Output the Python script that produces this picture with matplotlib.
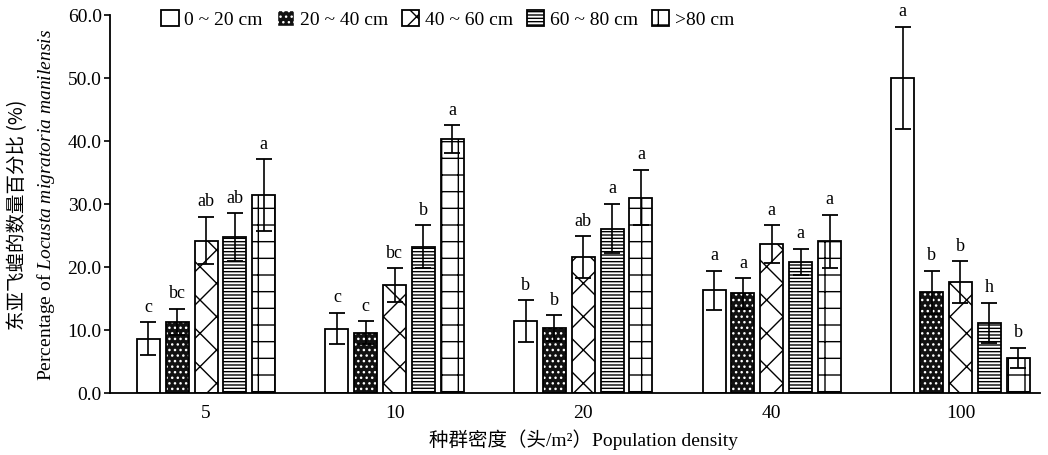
import matplotlib
matplotlib.use("Agg")
import matplotlib.pyplot as plt
from matplotlib.patches import Patch
import numpy as np

densities = ["5", "10", "20", "40", "100"]
series = ["0 ~ 20 cm", "20 ~ 40 cm", "40 ~ 60 cm", "60 ~ 80 cm", ">80 cm"]
v_0_20 = [8.6, 10.2, 11.4, 16.3, 50.0]
v_20_40 = [11.3, 9.6, 10.3, 15.8, 16.0]
v_40_60 = [24.2, 17.1, 21.6, 23.6, 17.6]
v_60_80 = [24.7, 23.2, 26.1, 20.8, 11.1]
v_80 = [31.4, 40.3, 31.0, 24.1, 5.6]
e_0_20 = [2.6, 2.5, 3.3, 3.1, 8.1]
e_20_40 = [2.1, 1.8, 2.0, 2.4, 3.4]
e_40_60 = [3.8, 2.7, 3.3, 3.0, 3.3]
e_60_80 = [3.8, 3.4, 3.9, 2.1, 3.2]
e_80 = [5.7, 2.2, 4.4, 4.2, 1.6]
l_0_20 = ["c", "c", "b", "a", "a"]
l_20_40 = ["bc", "c", "b", "a", "b"]
l_40_60 = ["ab", "bc", "ab", "a", "b"]
l_60_80 = ["ab", "b", "a", "a", "h"]
l_80 = ["a", "a", "a", "a", "b"]

values = [v_0_20, v_20_40, v_40_60, v_60_80, v_80]
errors = [e_0_20, e_20_40, e_40_60, e_60_80, e_80]
letters = [l_0_20, l_20_40, l_40_60, l_60_80, l_80]

plt.rcParams['font.family'] = ['Liberation Serif', 'Noto Sans CJK SC']
plt.rcParams['mathtext.fontset'] = 'custom'
plt.rcParams['mathtext.it'] = 'Liberation Serif:italic'
plt.rcParams['mathtext.rm'] = 'Liberation Serif'
plt.rcParams['hatch.linewidth'] = 1.0

fig = plt.figure(figsize=(10.48, 4.56), dpi=100)
ax = fig.add_axes([0.105, 0.136, 0.887, 0.829])

x = np.arange(len(densities))
step = 0.153
width = 0.122
hatches = [None, '...', 'x', '-----', '+']
handles = []
for i, (vals, errs, labs) in enumerate(zip(values, errors, letters)):
    pos = x + (i - 2) * step
    if i == 1:
        ax.bar(pos, vals, width, color='#111111', edgecolor='white', hatch='...', linewidth=0, zorder=2)
        ax.bar(pos, vals, width, facecolor='none', edgecolor='black', linewidth=1.3, zorder=3)
        h = Patch(facecolor='#111111', edgecolor='white', hatch='...')
    else:
        b = ax.bar(pos, vals, width, facecolor='white', edgecolor='black', hatch=hatches[i], linewidth=1.3, zorder=2)
        h = b
    handles.append(h)
    ax.errorbar(pos, vals, yerr=errs, fmt='none', ecolor='black', elinewidth=1.2, capsize=5.5, capthick=1.3, zorder=4)
    for p, v, e, t in zip(pos, vals, errs, labs):
        ax.text(p, v + e + 1.2, t, ha='center', va='bottom', fontsize=13)

ax.set_xlim(-0.509, 4.42)
ax.set_ylim(0, 60)
ax.set_yticks(np.arange(0, 61, 10))
ax.set_yticklabels([f"{t:.1f}" for t in np.arange(0, 61, 10)], fontsize=14)
ax.set_xticks(x)
ax.set_xticklabels(densities, fontsize=14)
ax.tick_params(axis='x', length=0, pad=8)
ax.tick_params(axis='y', direction='out', length=4, width=1.2, pad=2)
for s in ['top', 'right']:
    ax.spines[s].set_visible(False)
ax.spines['left'].set_linewidth(1.3)
ax.spines['bottom'].set_linewidth(1.3)

fig.text(0.557, 0.035, "种群密度（头/m²）Population density", ha='center', va='center', fontsize=14)
fig.text(0.017, 0.53, "东亚飞蝗的数量百分比 (%)", rotation=90, ha='center', va='center', fontsize=14,
         family=['Noto Sans CJK SC', 'Liberation Serif'])
fig.text(0.044, 0.55, "Percentage of $\\it{Locusta\\ migratoria\\ manilensis}$", rotation=90,
         ha='center', va='center', fontsize=14)

fig.legend(handles, series, loc='upper left', bbox_to_anchor=(0.137, 1.015), ncol=5,
           frameon=False, fontsize=14, handlelength=0.9, handleheight=0.9,
           handletextpad=0.3, columnspacing=0.7)

fig.savefig("out.png", dpi=100)
